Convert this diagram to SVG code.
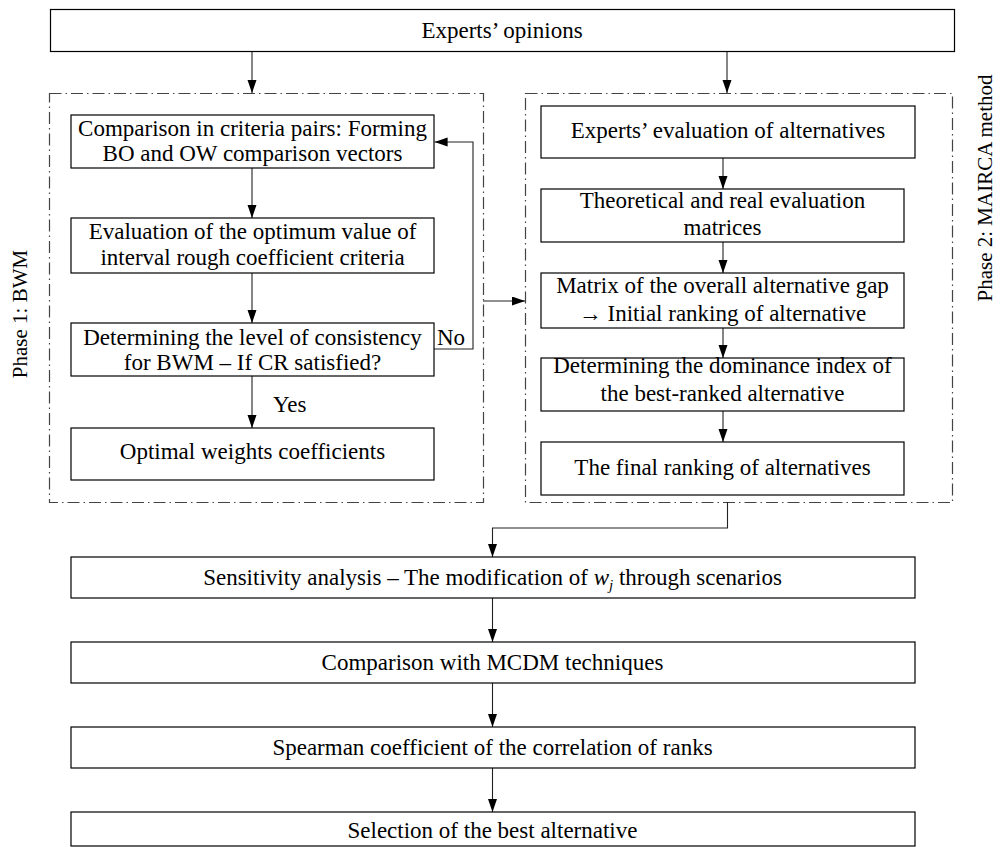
<svg xmlns="http://www.w3.org/2000/svg" width="1004" height="847" viewBox="0 0 1004 847">
<style>
.box{fill:#fff;stroke:#000;stroke-width:1.2}
.grp{fill:none;stroke:#444;stroke-width:1.2;stroke-dasharray:12 4 1.5 4}
.t{font-family:"Liberation Serif","Times New Roman",serif;font-size:23px;fill:#000;text-anchor:middle}
.tl{font-family:"Liberation Serif","Times New Roman",serif;font-size:23px;fill:#000}
.c{fill:none;stroke:#222;stroke-width:1.1}
</style>
<defs>
<marker id="ah" markerUnits="userSpaceOnUse" markerWidth="14" markerHeight="10" refX="13" refY="4.5" orient="auto">
<path d="M0,0 L13,4.5 L0,9 z" fill="#000"/>
</marker>
</defs>
<rect width="1004" height="847" fill="#fff"/>

<g id="phase1-group">
<rect class="grp" x="49.5" y="93.5" width="434" height="409"/>
<text class="t" style="font-size:21px" transform="translate(27,314) rotate(-90)">Phase 1: BWM</text>
</g>
<g id="phase2-group">
<rect class="grp" x="525.5" y="93.5" width="427" height="409"/>
<text class="t" style="font-size:21px" transform="translate(992,188) rotate(-90)">Phase 2: MAIRCA method</text>
</g>

<g id="connectors">
<line class="c" x1="252" y1="52" x2="252" y2="93" marker-end="url(#ah)"/>
<line class="c" x1="727" y1="52" x2="727" y2="93" marker-end="url(#ah)"/>
<line class="c" x1="252" y1="168" x2="252" y2="218" marker-end="url(#ah)"/>
<line class="c" x1="252" y1="273" x2="252" y2="323" marker-end="url(#ah)"/>
<line class="c" x1="252" y1="376" x2="252" y2="428" marker-end="url(#ah)"/>
<polyline class="c" points="434,349 473,349 473,142 434.6,142" marker-end="url(#ah)"/>
<line class="c" x1="483" y1="301" x2="525" y2="301" marker-end="url(#ah)"/>
<line class="c" x1="723" y1="158" x2="723" y2="189" marker-end="url(#ah)"/>
<line class="c" x1="723" y1="242" x2="723" y2="273" marker-end="url(#ah)"/>
<line class="c" x1="723" y1="328" x2="723" y2="358" marker-end="url(#ah)"/>
<line class="c" x1="723" y1="411" x2="723" y2="442" marker-end="url(#ah)"/>
<polyline class="c" points="727.5,502 727.5,528 492.5,528 492.5,557" marker-end="url(#ah)"/>
<line class="c" x1="492.5" y1="598" x2="492.5" y2="642" marker-end="url(#ah)"/>
<line class="c" x1="492.5" y1="683" x2="492.5" y2="727" marker-end="url(#ah)"/>
<line class="c" x1="492.5" y1="768" x2="492.5" y2="812" marker-end="url(#ah)"/>
<text class="tl" x="437" y="345">No</text>
<text class="tl" x="273" y="412">Yes</text>
</g>

<g id="experts-opinions">
<rect class="box" x="50.5" y="9.5" width="904" height="42"/>
<text class="t" x="502" y="38">Experts’ opinions</text>
</g>

<g id="comparison-pairs">
<rect class="box" x="71" y="115" width="363" height="53"/>
<text class="t" x="252.5" y="136">Comparison in criteria pairs: Forming</text>
<text class="t" x="252.5" y="161">BO and OW comparison vectors</text>
</g>
<g id="evaluation-optimum">
<rect class="box" x="71" y="218" width="363" height="55"/>
<text class="t" x="252.5" y="239">Evaluation of the optimum value of</text>
<text class="t" x="252.5" y="265">interval rough coefficient criteria</text>
</g>
<g id="consistency">
<rect class="box" x="71" y="323" width="363" height="53"/>
<text class="t" x="252.5" y="345">Determining the level of consistency</text>
<text class="t" x="252.5" y="370">for BWM – If CR satisfied?</text>
</g>
<g id="optimal-weights">
<rect class="box" x="71" y="428" width="363" height="52"/>
<text class="t" x="252.5" y="459">Optimal weights coefficients</text>
</g>

<g id="experts-evaluation">
<rect class="box" x="541" y="106" width="374" height="52"/>
<text class="t" x="728" y="138">Experts’ evaluation of alternatives</text>
</g>
<g id="evaluation-matrices">
<rect class="box" x="541" y="189" width="363" height="53"/>
<text class="t" x="722.5" y="208">Theoretical and real evaluation</text>
<text class="t" x="722.5" y="235">matrices</text>
</g>
<g id="gap-matrix">
<rect class="box" x="541" y="273" width="363" height="55"/>
<text class="t" x="722.5" y="293">Matrix of the overall alternative gap</text>
<text class="t" x="722.5" y="321">→ Initial ranking of alternative</text>
</g>
<g id="dominance-index">
<rect class="box" x="541" y="358" width="363" height="53"/>
<text class="t" x="722.5" y="373">Determining the dominance index of</text>
<text class="t" x="722.5" y="401">the best-ranked alternative</text>
</g>
<g id="final-ranking">
<rect class="box" x="541" y="442" width="363" height="53"/>
<text class="t" x="722.5" y="475">The final ranking of alternatives</text>
</g>

<g id="sensitivity">
<rect class="box" x="71" y="557" width="844" height="41"/>
<text class="t" x="492.5" y="585">Sensitivity analysis – The modification of <tspan font-style="italic">w</tspan><tspan font-style="italic" font-size="15" dy="5">j</tspan><tspan dy="-5"> through scenarios</tspan></text>
</g>
<g id="mcdm-comparison">
<rect class="box" x="71" y="642" width="844" height="41"/>
<text class="t" x="492.5" y="670">Comparison with MCDM techniques</text>
</g>
<g id="spearman">
<rect class="box" x="71" y="727" width="844" height="41"/>
<text class="t" x="492.5" y="755">Spearman coefficient of the correlation of ranks</text>
</g>
<g id="selection">
<rect class="box" x="71" y="812" width="844" height="34"/>
<text class="t" x="492.5" y="838">Selection of the best alternative</text>
</g>
</svg>
